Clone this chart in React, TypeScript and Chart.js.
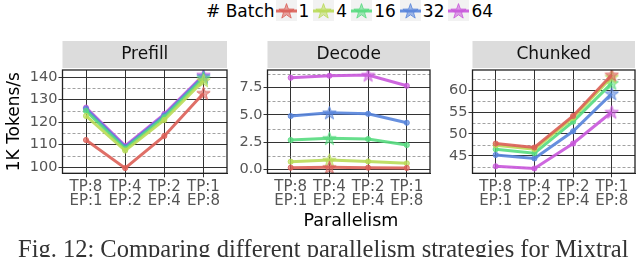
import React, { useEffect, useRef } from 'react';
import { Chart, registerables } from 'chart.js';
Chart.register(...registerables);

const categories: string[][] = [['TP:8', 'EP:1'], ['TP:4', 'EP:2'], ['TP:2', 'EP:4'], ['TP:1', 'EP:8']];
const batchLabels = ['1', '4', '16', '32', '64'];
const seriesColors = ['#db5f57', '#b9db57', '#57db80', '#5784db', '#c957db'];

const prefillB1 = [112.1, 99.6, 113.9, 132.9];
const prefillB4 = [122.8, 107.4, 121.0, 138.5];
const prefillB16 = [125.0, 108.2, 122.2, 139.6];
const prefillB32 = [126.0, 108.9, 123.0, 140.4];
const prefillB64 = [126.5, 109.5, 123.6, 141.0];

const decodeB1 = [0.15, 0.18, 0.15, 0.12];
const decodeB4 = [0.7, 0.85, 0.72, 0.55];
const decodeB16 = [2.69, 2.85, 2.78, 2.23];
const decodeB32 = [4.9, 5.2, 5.1, 4.28];
const decodeB64 = [8.42, 8.6, 8.67, 7.68];

const chunkedB1 = [47.8, 46.9, 54.1, 63.5];
const chunkedB4 = [47.4, 46.5, 53.7, 63.0];
const chunkedB16 = [46.5, 45.6, 52.8, 61.6];
const chunkedB32 = [45.2, 44.4, 50.6, 59.2];
const chunkedB64 = [42.6, 42.1, 47.8, 55.0];

const prefillMinor = [105, 115, 125, 135];
const decodeMinor = [1.25, 3.75, 6.25, 8.75];
const chunkedMinor = [42.5, 47.5, 52.5, 57.5, 62.5];

const FONT = "'DejaVu Sans', sans-serif";
const CANVAS_H = 215;
const PLOT_BOTTOM = 173.3;

function hexA(hex: string, a: number) {
  const r = parseInt(hex.slice(1, 3), 16);
  const g = parseInt(hex.slice(3, 5), 16);
  const b = parseInt(hex.slice(5, 7), 16);
  return `rgba(${r},${g},${b},${a})`;
}

function starPath(ctx: CanvasRenderingContext2D, cx: number, cy: number, R: number) {
  const r = R * 0.4;
  ctx.beginPath();
  for (let i = 0; i < 10; i++) {
    const ang = -Math.PI / 2 + (i * Math.PI) / 5;
    const rad = i % 2 === 0 ? R : r;
    ctx.lineTo(cx + rad * Math.cos(ang), cy + rad * Math.sin(ang));
  }
  ctx.closePath();
}

function makeStar(color: string, size: number) {
  const c = document.createElement('canvas');
  c.width = size;
  c.height = size;
  const ctx = c.getContext('2d')!;
  starPath(ctx, size / 2, size / 2 + 0.6, size / 2 - 0.5);
  ctx.fillStyle = hexA(color, 0.55);
  ctx.fill();
  ctx.strokeStyle = hexA(color, 0.8);
  ctx.lineWidth = 1;
  ctx.stroke();
  return c;
}

const panelPlugin = {
  id: 'panel',
  beforeDatasetsDraw(chart: any, _args: any, opts: any) {
    const { ctx, chartArea } = chart;
    const { left, right } = chartArea;
    const y = chart.scales.y;
    ctx.save();
    ctx.strokeStyle = '#8a8a8a';
    ctx.lineWidth = 0.8;
    ctx.setLineDash([3, 2]);
    for (const v of opts.minor || []) {
      const py = Math.round(y.getPixelForValue(v)) + 0.5;
      ctx.beginPath();
      ctx.moveTo(left, py);
      ctx.lineTo(right, py);
      ctx.stroke();
    }
    ctx.restore();
  },
  afterDraw(chart: any, _args: any, opts: any) {
    const { ctx, chartArea } = chart;
    const { left, right, top, bottom } = chartArea;
    ctx.save();
    ctx.strokeStyle = '#222';
    ctx.lineWidth = 1.3;
    ctx.strokeRect(left, top, right - left, bottom - top);
    ctx.fillStyle = '#dcdcdc';
    ctx.fillRect(left, top - 29, right - left, 27);
    ctx.fillStyle = '#111';
    ctx.font = `17px ${FONT}`;
    ctx.textAlign = 'center';
    ctx.textBaseline = 'middle';
    ctx.fillText(opts.title, (left + right) / 2, top - 15.5);
    ctx.restore();
  },
};

type PanelProps = {
  title: string;
  series: number[][];
  min: number;
  max: number;
  step: number;
  decimals: number;
  minor: number[];
  left: number;
  width: number;
  yWidth: number;
  padRight: number;
  yTitle?: string;
};

function Panel(p: PanelProps) {
  const ref = useRef<HTMLCanvasElement>(null);
  useEffect(() => {
    const datasets = p.series.map((vals, s) => {
      const color = seriesColors[s];
      const maxIdx = vals.indexOf(Math.max(...vals));
      const star = makeStar(color, 15);
      return {
        label: batchLabels[s],
        data: vals.map((v, i) => ({ x: i, y: v })),
        borderColor: hexA(color, 0.9),
        backgroundColor: hexA(color, 0.7),
        borderWidth: 3,
        pointStyle: vals.map((_, i) => (i === maxIdx ? star : 'circle')),
        pointRadius: 2.6,
        pointBorderWidth: 1,
        pointBorderColor: hexA(color, 0.8),
        tension: 0,
      };
    });
    const chart = new Chart(ref.current!, {
      type: 'line',
      data: { datasets } as any,
      plugins: [panelPlugin as any],
      options: {
        animation: false,
        responsive: false,
        layout: { padding: { top: 70, right: p.padRight, left: 0, bottom: 0 } },
        plugins: {
          legend: { display: false },
          tooltip: { enabled: false },
          panel: { title: p.title, minor: p.minor },
        } as any,
        scales: {
          x: {
            type: 'linear',
            min: -0.6,
            max: 3.6,
            afterBuildTicks: (scale: any) => {
              scale.ticks = categories.map((_, i) => ({ value: i }));
            },
            afterFit: (scale: any) => {
              scale.height = CANVAS_H - PLOT_BOTTOM;
            },
            ticks: {
              font: { size: 15, family: FONT, lineHeight: 0.98 },
              color: '#555',
              padding: 2,
              maxRotation: 0,
              autoSkip: false,
              callback: (v: any) => categories[Math.round(Number(v))] || '',
            },
            grid: { color: '#333', lineWidth: 1, tickLength: 4, tickColor: '#333' },
            border: { display: true, color: '#222' },
          },
          y: {
            type: 'linear',
            min: p.min,
            max: p.max,
            afterFit: (scale: any) => {
              scale.width = p.yWidth;
            },
            ticks: {
              stepSize: p.step,
              includeBounds: false,
              font: { size: 14.5, family: FONT },
              color: '#555',
              padding: 1,
              callback: (v: any) => Number(v).toFixed(p.decimals),
            },
            grid: { color: '#333', lineWidth: 1, tickLength: 4, tickColor: '#333' },
            border: { display: true, color: '#222' },
            title: {
              display: !!p.yTitle,
              text: p.yTitle || '',
              font: { size: 17, family: FONT },
              color: '#000',
              padding: { top: 4, bottom: 0 },
            },
          },
        },
      } as any,
    });
    return () => chart.destroy();
  }, []);
  return (
    <canvas
      ref={ref}
      width={p.width}
      height={CANVAS_H}
      style={{ position: 'absolute', left: p.left, top: 0, width: p.width, height: CANVAS_H }}
    />
  );
}

function LegendMarker({ color }: { color: string }) {
  const ref = useRef<HTMLCanvasElement>(null);
  useEffect(() => {
    const ctx = ref.current!.getContext('2d')!;
    ctx.clearRect(0, 0, 21, 21);
    ctx.fillStyle = '#f2f2f2';
    ctx.fillRect(0, 0, 21, 21);
    ctx.strokeStyle = hexA(color, 0.9);
    ctx.lineWidth = 3;
    ctx.beginPath();
    ctx.moveTo(0, 11);
    ctx.lineTo(21, 11);
    ctx.stroke();
    starPath(ctx, 10.5, 11.6, 8);
    ctx.fillStyle = hexA(color, 0.55);
    ctx.fill();
    ctx.strokeStyle = hexA(color, 0.8);
    ctx.lineWidth = 1;
    ctx.stroke();
  }, [color]);
  return <canvas ref={ref} width={21} height={21} style={{ width: 21, height: 21, display: 'block' }} />;
}

export default function App() {
  return (
    <div
      style={{
        position: 'fixed',
        left: 0,
        top: 0,
        width: 640,
        height: 257,
        overflow: 'hidden',
        background: '#fff',
        fontFamily: FONT,
      }}
    >
      <div
        style={{
          position: 'absolute',
          left: 206,
          top: 0,
          height: 21,
          display: 'flex',
          alignItems: 'center',
          fontSize: 17,
          color: '#000',
          whiteSpace: 'nowrap',
        }}
      >
        <span style={{ marginRight: 1 }}># Batch</span>
        {batchLabels.map((b, i) => (
          <div key={b} style={{ display: 'flex', alignItems: 'center', marginRight: 4 }}>
            <LegendMarker color={seriesColors[i]} />
            <span style={{ marginLeft: 2 }}>{b}</span>
          </div>
        ))}
      </div>
      <Panel
        title="Prefill"
        series={[prefillB1, prefillB4, prefillB16, prefillB32, prefillB64]}
        min={97.3}
        max={143.2}
        step={10}
        decimals={0}
        minor={prefillMinor}
        left={0}
        width={232}
        yWidth={62.5}
        padRight={3}
        yTitle="1K Tokens/s"
      />
      <Panel
        title="Decode"
        series={[decodeB1, decodeB4, decodeB16, decodeB32, decodeB64]}
        min={-0.37}
        max={9.13}
        step={2.5}
        decimals={1}
        minor={decodeMinor}
        left={235}
        width={200}
        yWidth={32.5}
        padRight={2}
      />
      <Panel
        title="Chunked"
        series={[chunkedB1, chunkedB4, chunkedB16, chunkedB32, chunkedB64]}
        min={41}
        max={64.6}
        step={5}
        decimals={0}
        minor={chunkedMinor}
        left={440}
        width={200}
        yWidth={32.5}
        padRight={1}
      />
      <div
        style={{
          position: 'absolute',
          left: 0,
          width: 702,
          top: 210,
          textAlign: 'center',
          fontSize: 17.5,
          color: '#000',
        }}
      >
        Parallelism
      </div>
      <div
        style={{
          position: 'absolute',
          left: 18,
          top: 235,
          fontSize: 24.5,
          lineHeight: '28px',
          fontFamily: "'Liberation Serif', serif",
          color: '#333',
          whiteSpace: 'nowrap',
        }}
      >
        Fig. 12: Comparing different parallelism strategies for Mixtral
      </div>
    </div>
  );
}
